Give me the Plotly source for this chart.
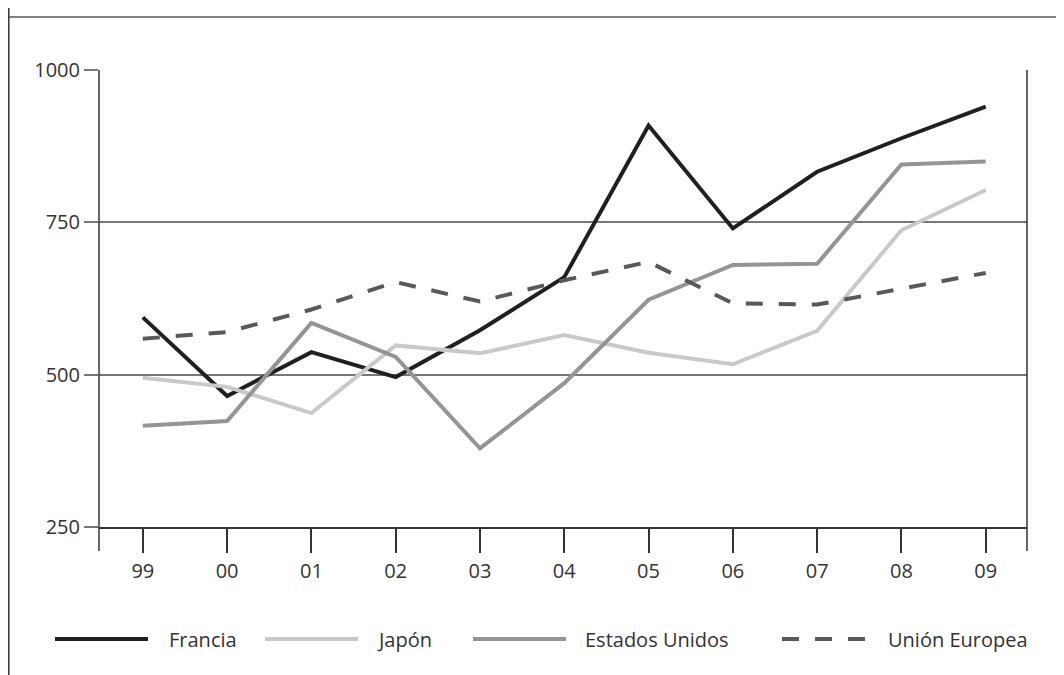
import plotly.graph_objects as go

years = ["99", "00", "01", "02", "03", "04", "05", "06", "07", "08", "09"]
francia = [594, 465, 537, 496, 573, 660, 909, 740, 833, 888, 940]
japon = [495, 480, 437, 548, 535, 565, 536, 517, 572, 737, 803]
eeuu = [416, 424, 585, 529, 379, 486, 623, 680, 682, 845, 850]
ue = [559, 570, 607, 652, 620, 655, 685, 617, 615, 641, 667]
yticks = [250, 500, 750, 1000]

series = [
    ("Francia", francia, "#231f20", "solid"),
    ("Japón", japon, "#c8c9cb", "solid"),
    ("Estados Unidos", eeuu, "#939598", "solid"),
    ("Unión Europea", ue, "#58595b", "17px,16px"),
]

# page has an 8px body margin; work in page coordinates and shift
OFF = 8
W, H = 1064 - OFF, 675 - OFF
L, R, T, B = 99 - OFF, 1027 - OFF, 70 - OFF, 527 - OFF
FONT = "Open Sans"
TXT = "#333333"

def px(x):
    return (x - OFF - L) / (R - L)

def py(y):
    return (B - (y - OFF)) / (B - T)

fig = go.Figure()
xi = list(range(len(years)))
for name, vals, col, dash in series:
    fig.add_trace(go.Scatter(x=xi, y=vals, mode="lines", name=name,
                             line=dict(color=col, width=4, dash=dash),
                             showlegend=False))

shapes = []
# frame lines
shapes.append(dict(type="line", xref="paper", yref="paper", x0=px(8.8), x1=px(1064),
                   y0=py(17), y1=py(17), line=dict(color="#555555", width=1.5)))
shapes.append(dict(type="line", xref="paper", yref="paper", x0=px(8.8), x1=px(8.8),
                   y0=py(8), y1=py(675), line=dict(color="#333333", width=1.5)))
# left and right vertical axis lines extending below the x axis
for xx in (99, 1027):
    shapes.append(dict(type="line", xref="paper", yref="paper", x0=px(xx), x1=px(xx),
                       y0=py(70), y1=py(551), line=dict(color="#333333", width=1.5)))

# custom legend
leg_y = 639
leg = [(55, 148, 167), (265, 358, 375), (473, 566, 583), (782, 867, 886)]
annotations = []
for (x0, x1, tx), (name, vals, col, dash) in zip(leg, series):
    shapes.append(dict(type="line", xref="paper", yref="paper", x0=px(x0), x1=px(x1),
                       y0=py(leg_y), y1=py(leg_y),
                       line=dict(color=col, width=4, dash=dash)))
    annotations.append(dict(xref="paper", yref="paper", x=px(tx), y=py(leg_y),
                            text=name, showarrow=False, xanchor="left", yanchor="middle",
                            font=dict(family=FONT, size=20, color=TXT)))

fig.update_layout(
    width=W, height=H,
    margin=dict(l=L, r=W - R, t=T, b=H - B, pad=0),
    paper_bgcolor="white", plot_bgcolor="white",
    showlegend=False,
    shapes=shapes, annotations=annotations,
    font=dict(family=FONT, size=20, color=TXT),
)
fig.update_xaxes(
    range=[-0.52, len(years) - 1 + 0.49],
    tickmode="array", tickvals=xi, ticktext=years,
    ticks="outside", ticklen=24, tickwidth=1.5, tickcolor="#333333",
    showline=True, linecolor="#333333", linewidth=1.5,
    showgrid=False, zeroline=False, ticklabelstandoff=1,
    tickfont=dict(family=FONT, size=20, color=TXT),
)
fig.update_yaxes(
    range=[250, 1000], tickvals=yticks,
    ticks="outside", ticklen=14, tickwidth=1.5, tickcolor="#777777",
    showgrid=True, gridcolor="#777777", gridwidth=1.5,
    showline=False, zeroline=False,
    tickfont=dict(family=FONT, size=20, color=TXT),
)

fig.write_html("out.html")
